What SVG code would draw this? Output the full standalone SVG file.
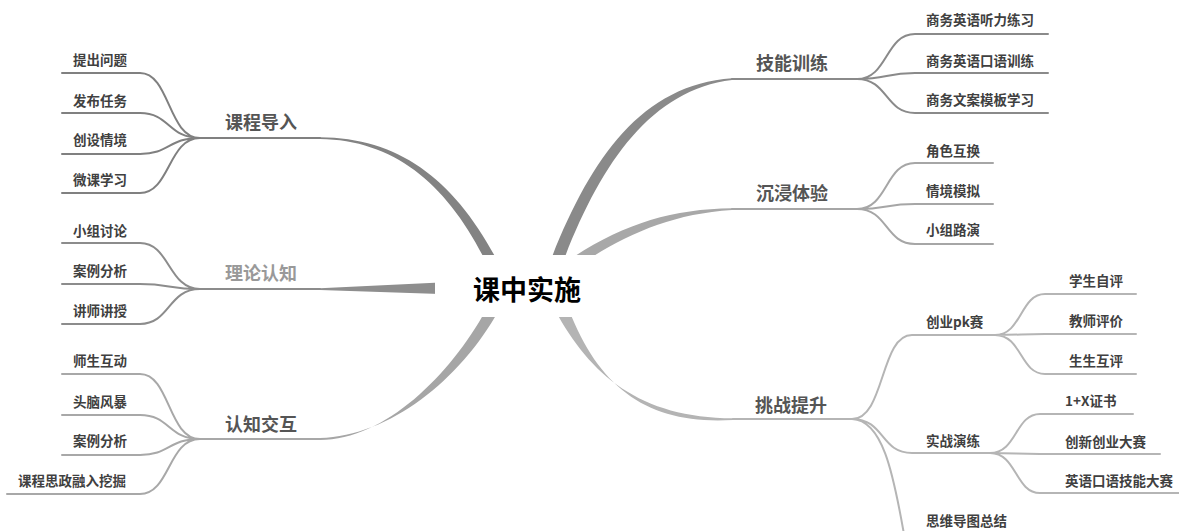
<svg xmlns="http://www.w3.org/2000/svg" width="1179" height="531" viewBox="0 0 1179 531">
<style>
text{font-family:"Noto Sans CJK SC","Noto Sans",sans-serif;font-weight:bold;dominant-baseline:central}
.c{font-size:13.5px;fill:#404040}
.m{font-size:18px;fill:#555}
.l{fill:none;stroke-width:2;stroke-linecap:round}
.g1{stroke:#808080}.g2{stroke:#8c8c8c}.g3{stroke:#a8a8a8}.g4{stroke:#8a8a8a}.g5{stroke:#a6a6a6}.g6{stroke:#b5b5b5}
</style>
<rect width="1179" height="531" fill="#fff"/>
<g id="connectors">
<path d="M320,137.3 C400,138 455,180 498,262 L486,262 C448,185 395,140 320,139 Z" fill="#838383"/>
<path d="M320,288.3 L440,282.5 L440,294 L320,290 Z" fill="#8e8e8e"/>
<path d="M320,438 C390,436 460,380 499,310 L486,310 C450,375 385,440 320,440 Z" fill="#a6a6a6"/>
<path d="M550,262 C590,160 640,85 732,78.3 L732,80 C650,90 600,165 563,262 Z" fill="#8a8a8a"/>
<path d="M566,262 C620,225 670,209 732,208.3 L732,210 C670,214 625,235 578,266 Z" fill="#a8a8a8"/>
<path d="M555,310 C590,375 640,418 733,418.3 L733,420 C650,425 600,390 569,310 Z" fill="#b4b4b4"/>
<path class="l g1" d="M200,138 H320"/>
<path class="l g1" d="M200,138 C168,138 170,73 140,73 H62 M200,138 C168,138 170,113 140,113 H62 M200,138 C168,138 170,154 140,154 H62 M200,138 C168,138 170,193 140,193 H62"/>
<path class="l g2" d="M200,289 H320"/>
<path class="l g2" d="M200,289 C168,289 170,243 140,243 H62 M200,289 C168,289 170,284 140,284 H62 M200,289 C168,289 170,324 140,324 H62"/>
<path class="l g3" d="M200,439 H320"/>
<path class="l g3" d="M200,439 C168,439 170,374 140,374 H62 M200,439 C168,439 170,415 140,415 H62 M200,439 C168,439 170,455 140,455 H62 M200,439 C168,439 170,494 140,494 H7"/>
<path class="l g4" d="M732,79 H857"/>
<path class="l g4" d="M857,79 C888,79 885,34 915,34 H1048 M857,79 C888,79 885,73 915,73 H1048 M857,79 C888,79 885,113 915,113 H1048"/>
<path class="l g5" d="M732,209 H857"/>
<path class="l g5" d="M857,209 C888,209 885,163 915,163 H993 M857,209 C888,209 885,204 915,204 H993 M857,209 C888,209 885,244 915,244 H993"/>
<path class="l g6" d="M733,419 H852"/>
<path class="l g6" d="M852,419 C885,419 880,335 912,335 H995 M852,419 C885,419 880,453 912,453 H990 M852,419 C882,420 893,470 905,540"/>
<path class="l g6" d="M995,335 C1022,335 1020,294 1045,294 H1136 M995,335 C1022,335 1020,334 1045,334 H1136 M995,335 C1022,335 1020,374 1045,374 H1136"/>
<path class="l g6" d="M990,453 C1017,453 1015,414 1040,414 H1133 M990,453 C1017,453 1015,454 1040,454 H1160 M990,453 C1017,453 1015,493 1040,493 H1179"/>
</g>
<g id="root">
<rect x="435" y="255" width="182" height="62" rx="8" fill="#fff"/>
<text x="527" y="288" text-anchor="middle" style="font-size:27px;fill:#000">课中实施</text>
</g>
<g id="n-kcdr"><text class="m" x="225" y="121">课程导入</text></g>
<g id="n-kcdr-1"><text class="c" x="73" y="59">提出问题</text></g>
<g id="n-kcdr-2"><text class="c" x="73" y="100">发布任务</text></g>
<g id="n-kcdr-3"><text class="c" x="73" y="139">创设情境</text></g>
<g id="n-kcdr-4"><text class="c" x="73" y="179">微课学习</text></g>
<g id="n-llrz"><text class="m" x="225" y="272" style="fill:#999">理论认知</text></g>
<g id="n-llrz-1"><text class="c" x="73" y="230">小组讨论</text></g>
<g id="n-llrz-2"><text class="c" x="73" y="270">案例分析</text></g>
<g id="n-llrz-3"><text class="c" x="73" y="310">讲师讲授</text></g>
<g id="n-rzjh"><text class="m" x="225" y="423">认知交互</text></g>
<g id="n-rzjh-1"><text class="c" x="73" y="360">师生互动</text></g>
<g id="n-rzjh-2"><text class="c" x="73" y="401">头脑风暴</text></g>
<g id="n-rzjh-3"><text class="c" x="73" y="440">案例分析</text></g>
<g id="n-rzjh-4"><text class="c" x="18" y="480">课程思政融入挖掘</text></g>
<g id="n-jnxl"><text class="m" x="756" y="62">技能训练</text></g>
<g id="n-jnxl-1"><text class="c" x="926" y="19">商务英语听力练习</text></g>
<g id="n-jnxl-2"><text class="c" x="926" y="60">商务英语口语训练</text></g>
<g id="n-jnxl-3"><text class="c" x="926" y="99">商务文案模板学习</text></g>
<g id="n-cjty"><text class="m" x="756" y="192">沉浸体验</text></g>
<g id="n-cjty-1"><text class="c" x="926" y="150">角色互换</text></g>
<g id="n-cjty-2"><text class="c" x="926" y="190">情境模拟</text></g>
<g id="n-cjty-3"><text class="c" x="926" y="229">小组路演</text></g>
<g id="n-tzts"><text class="m" x="755" y="404">挑战提升</text></g>
<g id="n-cypk"><text class="c" x="926" y="321">创业pk赛</text></g>
<g id="n-cypk-1"><text class="c" x="1069" y="280">学生自评</text></g>
<g id="n-cypk-2"><text class="c" x="1069" y="320">教师评价</text></g>
<g id="n-cypk-3"><text class="c" x="1069" y="360">生生互评</text></g>
<g id="n-szyl"><text class="c" x="926" y="440">实战演练</text></g>
<g id="n-szyl-1"><text class="c" x="1065" y="400">1+X证书</text></g>
<g id="n-szyl-2"><text class="c" x="1065" y="441">创新创业大赛</text></g>
<g id="n-szyl-3"><text class="c" x="1065" y="480">英语口语技能大赛</text></g>
<g id="n-swdt"><text class="c" x="926" y="520">思维导图总结</text></g>
</svg>
